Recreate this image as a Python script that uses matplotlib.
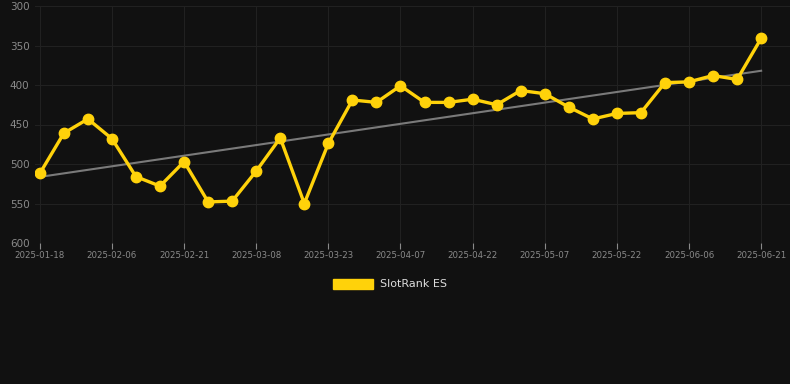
import matplotlib
matplotlib.use("Agg")
import matplotlib.pyplot as plt
import numpy as np

# ---- data ----
fechas = ["2025-01-18", "2025-01-24", "2025-01-30", "2025-02-06", "2025-02-11",
          "2025-02-16", "2025-02-21", "2025-02-26", "2025-03-03", "2025-03-08",
          "2025-03-13", "2025-03-18", "2025-03-23", "2025-03-28", "2025-04-02",
          "2025-04-07", "2025-04-12", "2025-04-17", "2025-04-22", "2025-04-27",
          "2025-05-02", "2025-05-07", "2025-05-12", "2025-05-17", "2025-05-22",
          "2025-05-27", "2025-06-01", "2025-06-06", "2025-06-11", "2025-06-16",
          "2025-06-21"]
rank = [512, 461, 443, 468, 516, 528, 497, 548, 547, 509,
        467, 550, 474, 419, 422, 401, 422, 422, 418, 425,
        407, 411, 428, 443, 436, 435, 397, 396, 388, 393,
        341]
serie = "SlotRank ES"

bg = "#111111"
amarillo = "#FFD20A"

fig = plt.figure(figsize=(7.9, 3.84), dpi=100, facecolor=bg)
ax = fig.add_axes([35 / 790, 1 - 243 / 384, 755 / 790, 237 / 384], facecolor=bg)

x = np.arange(len(rank))

# linea de tendencia (ajuste lineal)
a, b = np.polyfit(x, rank, 1)
ax.plot(x, a * x + b, color="#7a7a7a", lw=1.5, zorder=2)

ax.plot(x, rank, color=amarillo, lw=2.4, marker="o", ms=7.5, zorder=3,
        label=serie)

ax.set_ylim(600, 300)
ax.set_xlim(-0.2, 31.2)
ax.set_yticks([300, 350, 400, 450, 500, 550, 600])
ax.set_xticks(x[::3])
ax.set_xticklabels(fechas[::3])

ax.grid(True, color="#212121", lw=0.8)
for s in ax.spines.values():
    s.set_visible(False)
ax.tick_params(axis="y", colors="#8a8a8a", labelsize=7.5, length=0, pad=4)
ax.tick_params(axis="x", colors="#8a8a8a", labelsize=6.2, length=4,
               width=0.8, pad=2)
for t in ax.xaxis.get_ticklines():
    t.set_color("#2e2e2e")

leg = fig.legend(handles=[plt.Rectangle((0, 0), 1, 1, color=amarillo)],
                 labels=[serie], loc="center", bbox_to_anchor=(390 / 790, 1 - 284 / 384),
                 frameon=False, handlelength=3.6, handleheight=1.0,
                 handletextpad=0.6, fontsize=8)
for t in leg.get_texts():
    t.set_color("#dddddd")

fig.savefig("out.png", dpi=100, facecolor=bg)
